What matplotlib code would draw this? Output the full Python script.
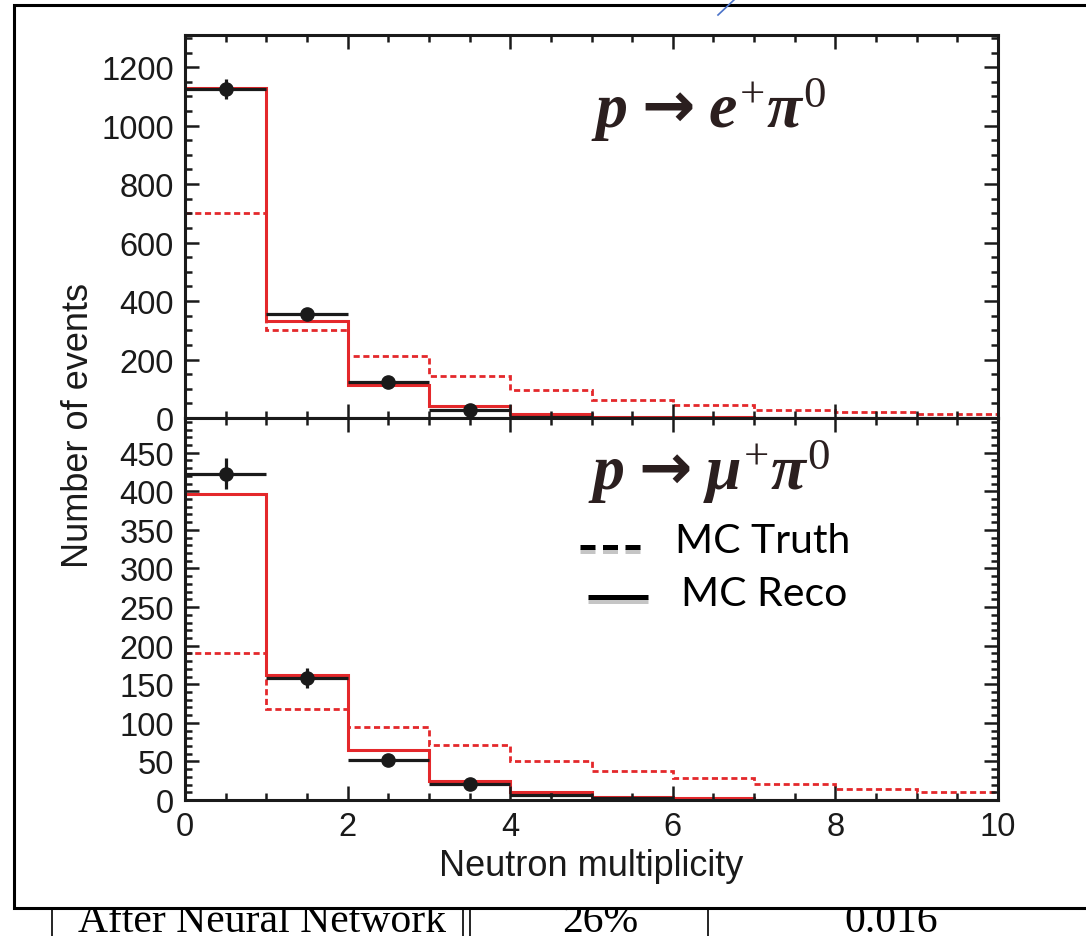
import numpy as np
import matplotlib
matplotlib.use("Agg")
import matplotlib.pyplot as plt
from matplotlib.ticker import MultipleLocator
import matplotlib.patheffects as pe

edges = np.arange(0, 11)
centers = edges[:-1] + 0.5

# p -> e+ pi0
e_reco = [1130, 332, 113, 40, 15, 5, 2, 1, 0, 0]
e_truth = [702, 301, 211, 142, 95, 62, 43, 28, 19, 14]
e_data = [1125, 355, 122, 27, 4, 1]
# p -> mu+ pi0
mu_reco = [397, 162, 65, 24, 10, 4, 2, 0, 0, 0]
mu_truth = [190, 118, 94, 71, 51, 38, 29, 21, 14, 10]
mu_data = [423, 158, 52, 21, 6, 2]
n_marked = 4

legend_labels = ["MC Truth", "MC Reco"]
table_row = ["After Neural Network", "26%", "0.016"]

plt.rcParams['font.family'] = ['Liberation Sans', 'DejaVu Sans']
plt.rcParams['mathtext.fontset'] = 'custom'
plt.rcParams['mathtext.rm'] = 'Liberation Serif'
plt.rcParams['mathtext.it'] = 'Liberation Serif:italic:bold'
plt.rcParams['mathtext.bf'] = 'Liberation Serif:bold'
plt.rcParams['mathtext.sf'] = 'DejaVu Sans:bold'

W, H = 1086, 937
fig = plt.figure(figsize=(W / 100, H / 100), dpi=100)
L, R = 185 / W, 998 / W
ax1 = fig.add_axes([L, 1 - 419 / H, R - L, (419 - 36) / H])
ax2 = fig.add_axes([L, 1 - 801 / H, R - L, (801 - 419) / H], sharex=ax1)

red = '#e4282b'
blk = '#1a1a1a'


def panel(ax, reco, truth, data, ymax, major, minor):
    ax.stairs(truth, edges, baseline=None, color=red, lw=2.0, ls=(0, (2.2, 1.3)))
    ax.stairs(reco, edges, baseline=None, color=red, lw=2.2)
    d = np.array(data, float)
    n = len(d)
    ax.errorbar(centers[:n], d, xerr=0.5, yerr=np.sqrt(d), fmt='none',
                ecolor=blk, elinewidth=2.3, capsize=0)
    ax.plot(centers[:n_marked], d[:n_marked], 'o', color=blk, ms=9.5)
    ax.set_xlim(0, 10)
    ax.set_ylim(0, ymax)
    ax.xaxis.set_major_locator(MultipleLocator(2))
    ax.xaxis.set_minor_locator(MultipleLocator(0.5))
    ax.yaxis.set_major_locator(MultipleLocator(major))
    ax.yaxis.set_minor_locator(MultipleLocator(minor))
    ax.tick_params(which='both', direction='in', top=True, right=True,
                   width=1.8, labelsize=23.5, pad=8, colors=blk)
    ax.tick_params(which='major', length=10)
    ax.tick_params(which='minor', length=5)
    for s in ax.spines.values():
        s.set_linewidth(2.2)
        s.set_color(blk)


panel(ax1, e_reco, e_truth, e_data, 1310, 200, 50)
panel(ax2, mu_reco, mu_truth, mu_data, 495, 50, 10)
ax1.tick_params(labelbottom=False)
ax2.set_xlabel("Neutron multiplicity", fontsize=26, color=blk, labelpad=4)
fig.text(78 / W, 1 - 425 / H, "Number of events", rotation=90, fontsize=26,
         color=blk, ha='center', va='center')

ptxt = '#2b1f1f'
fig.text(591 / W, 1 - 128 / H, r'$p\;\mathsf{→}\;e^{+}\pi^{0}$', fontsize=46,
         color=ptxt, ha='left', va='baseline')
fig.text(588 / W, 1 - 490 / H, r'$p\;\mathsf{→}\;\mu^{+}\pi^{0}$', fontsize=46,
         color=ptxt, ha='left', va='baseline')

# overlay in pixel coordinates for frame and pasted legend
ov = fig.add_axes([0, 0, 1, 1], zorder=5)
ov.set_xlim(0, W)
ov.set_ylim(H, 0)
ov.axis('off')
ov.patch.set_alpha(0)
shadow = [pe.SimpleLineShadow(offset=(0, -3), shadow_color='0.55', alpha=0.5), pe.Normal()]
ov.plot([580, 640], [548, 548], color='black', lw=3.6, ls=(0, (3.0, 1.5)),
        solid_capstyle='butt', dash_capstyle='butt', path_effects=shadow)
ov.plot([588, 648], [598, 598], color='black', lw=3.6, solid_capstyle='butt',
        path_effects=shadow)
ov.text(675, 553, legend_labels[0], fontsize=29.5, family='Lato', color='black', va='baseline')
ov.text(681, 606, legend_labels[1], fontsize=29.5, family='Lato', color='black', va='baseline')

# slide frame
ov.plot([W + 5, 14, 14, W + 5], [6, 6, 909, 909], color='black', lw=2.2,
        solid_joinstyle='miter')
ov.plot([718, 735], [16, 0], color='#4a72c8', lw=1.2)

# table row below the frame, clipped
strip = fig.add_axes([0, 0, 1, (H - 910) / H], zorder=4)
strip.set_xlim(0, W)
strip.set_ylim(H, 910)
strip.axis('off')
for x in [52, 463, 470, 708]:
    strip.plot([x, x], [910, H], color='black', lw=1.2)
for x, s in zip([78, 600, 891], table_row):
    strip.text(x, 932, s, fontsize=30, family='Liberation Serif',
               ha='left' if x == 78 else 'center', va='baseline', clip_on=True)

fig.savefig("out.png", dpi=100)
